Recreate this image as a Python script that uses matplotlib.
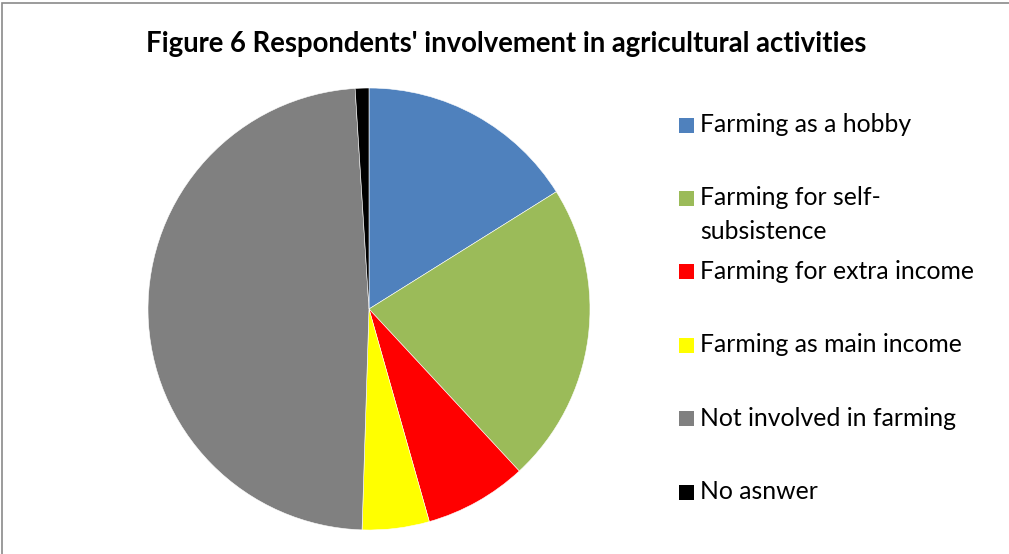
import matplotlib
matplotlib.use("Agg")
import matplotlib.pyplot as plt
from matplotlib.patches import Rectangle

# data (percent of respondents)
labels = ["Farming as a hobby", "Farming for self-\nsubsistence", "Farming for extra income",
          "Farming as main income", "Not involved in farming", "No asnwer"]
shares = [16.1, 22.0, 7.5, 4.9, 48.5, 1.0]
colors = ["#4F81BD", "#9BBB59", "#FF0000", "#FFFF00", "#808080", "#000000"]

title = "Figure 6 Respondents' involvement in agricultural activities"

W, H = 1009, 554
fig = plt.figure(figsize=(W / 100, H / 100), dpi=100)
plt.rcParams['font.family'] = ['Lato', 'DejaVu Sans']

# chart frame
fig.patches.append(Rectangle((2 / W, -0.1), 1.2, 1 - 3 / H + 0.1, transform=fig.transFigure,
                             fill=False, edgecolor="#8a8a8a", linewidth=1.2))

# pie: center (369, 309) px, radius 221 px
cx, cy, r = 369, 309, 221
ax = fig.add_axes([(cx - r) / W, (H - cy - r) / H, 2 * r / W, 2 * r / H])
ax.pie(shares, colors=colors, startangle=90, counterclock=False, radius=1,
       wedgeprops=dict(linewidth=0.4, edgecolor="white"))
ax.set_xlim(-1, 1)
ax.set_ylim(-1, 1)
ax.set_aspect("equal")
ax.axis("off")

fig.text(506 / W, 1 - 44 / H, title, ha="center", va="center",
         fontsize=19.8, fontweight="bold")

# legend, one slot every ~73 px, first line of each entry on the slot
y0, step = 125, 73.4
for i, (lab, col) in enumerate(zip(labels, colors)):
    y = y0 + i * step
    fig.patches.append(Rectangle((679 / W, 1 - (y + 7.5) / H), 15 / W, 15 / H,
                                 transform=fig.transFigure, facecolor=col, edgecolor="none"))
    fig.text(700 / W, 1 - (y - 12) / H, lab, ha="left", va="top", fontsize=17.8,
             linespacing=1.55)

fig.savefig("out.png", dpi=100)
